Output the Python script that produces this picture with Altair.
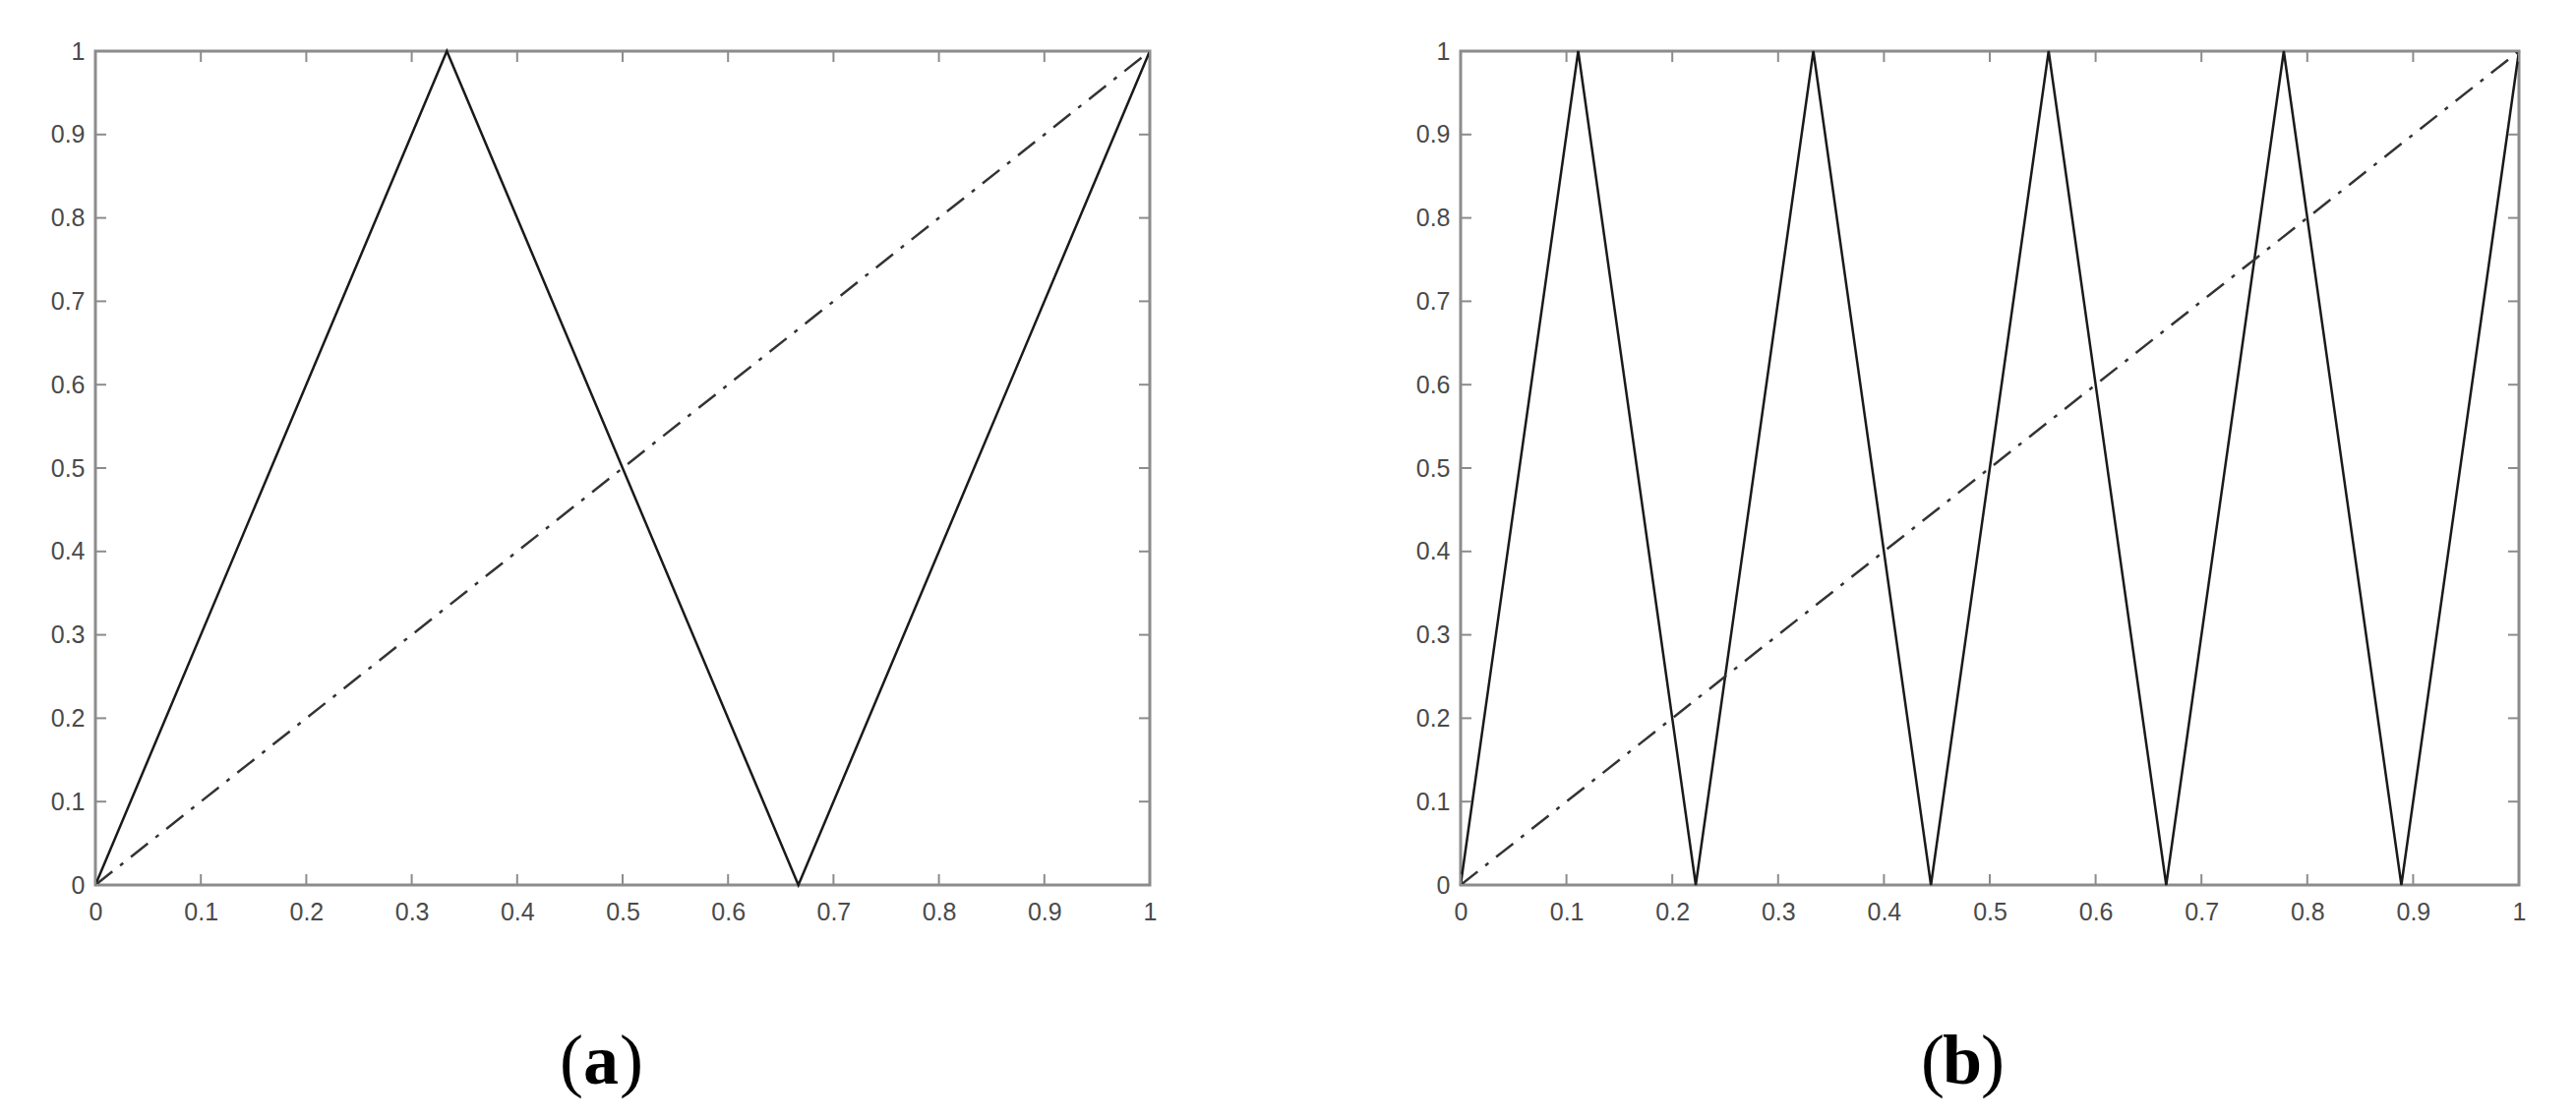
import altair as alt
import pandas as pd

# ---- data ----
a_x = [0, 0.3333, 0.6667, 1.0]
a_y = [0, 1, 0, 1]
b_x = [0, 0.1111, 0.2222, 0.3333, 0.4444, 0.5556, 0.6667, 0.7778, 0.8889, 1.0]
b_y = [0, 1, 0, 1, 0, 1, 0, 1, 0, 1]
diag_x = [0, 1]
diag_y = [0, 1]
tick_vals = [0, 0.1, 0.2, 0.3, 0.4, 0.5, 0.6, 0.7, 0.8, 0.9, 1.0]
panel_letters = ["a", "b"]

H = 848
TL = 11
FRAME = "#8c8c8c"
LABEL = "#4a4a4a"


def panel(xs, ys, letter, lx, W):
    sol = pd.DataFrame({"x": xs, "y": ys})
    dia = pd.DataFrame({"x": diag_x, "y": diag_y})
    tk = pd.DataFrame({"t": tick_vals})
    xsc = alt.Scale(domain=[0, 1], nice=False, zero=False)
    ysc = alt.Scale(domain=[0, 1], nice=False, zero=False)
    xax = alt.Axis(values=tick_vals, format="~g", domain=False, ticks=False, grid=False,
                   labelFlush=False, labelPadding=15, title=None)
    yax = alt.Axis(values=tick_vals, format="~g", domain=False, ticks=False, grid=False,
                   labelPadding=11, title=None, minExtent=60, maxExtent=60)

    line = alt.Chart(sol).mark_line(color="#1a1a1a", strokeWidth=2.5).encode(
        x=alt.X("x:Q", scale=xsc, axis=xax),
        y=alt.Y("y:Q", scale=ysc, axis=yax),
        order=alt.Order("x:Q"),
    )
    diag = alt.Chart(dia).mark_line(color="#333333", strokeWidth=2.5,
                                    strokeDash=[22, 10, 4, 10]).encode(
        x=alt.X("x:Q", scale=xsc, axis=xax),
        y=alt.Y("y:Q", scale=ysc, axis=yax),
    )
    tb = alt.Chart(tk).mark_rule(color=FRAME, strokeWidth=2).encode(
        x=alt.X("t:Q", scale=xsc, axis=xax), y=alt.value(H), y2=alt.value(H - TL))
    tt = alt.Chart(tk).mark_rule(color=FRAME, strokeWidth=2).encode(
        x=alt.X("t:Q", scale=xsc, axis=xax), y=alt.value(0), y2=alt.value(TL))
    tlft = alt.Chart(tk).mark_rule(color=FRAME, strokeWidth=2).encode(
        y=alt.Y("t:Q", scale=ysc, axis=yax), x=alt.value(0), x2=alt.value(TL))
    trt = alt.Chart(tk).mark_rule(color=FRAME, strokeWidth=2).encode(
        y=alt.Y("t:Q", scale=ysc, axis=yax), x=alt.value(W), x2=alt.value(W - TL))

    base = alt.Chart(pd.DataFrame({"k": [0]}))
    ty = H + 202
    lp = base.mark_text(text="(", font="Liberation Serif", fontSize=72, align="right",
                        baseline="alphabetic", color="black").encode(
        x=alt.value(lx - 18), y=alt.value(ty))
    lm = base.mark_text(text=letter, font="Liberation Serif", fontSize=72, fontWeight="bold",
                        align="center", baseline="alphabetic", color="black").encode(
        x=alt.value(lx), y=alt.value(ty))
    rp = base.mark_text(text=")", font="Liberation Serif", fontSize=72, align="left",
                        baseline="alphabetic", color="black").encode(
        x=alt.value(lx + 19), y=alt.value(ty))

    return alt.layer(line, diag, tb, tt, tlft, trt, lp, lm, rp).properties(width=W, height=H)


chart = alt.hconcat(
    panel(a_x, a_y, panel_letters[0], 514, 1072),
    panel(b_x, b_y, panel_letters[1], 510, 1076),
    spacing=245,
).properties(
    padding={"left": 27, "top": 30, "right": 5, "bottom": 5},
    background="white",
).configure_view(
    stroke=FRAME, strokeWidth=3
).configure_axis(
    labelFont="Liberation Sans", labelFontSize=25, labelColor=LABEL
)

chart.save("out.html", embed_options={"renderer": "svg", "actions": False})
